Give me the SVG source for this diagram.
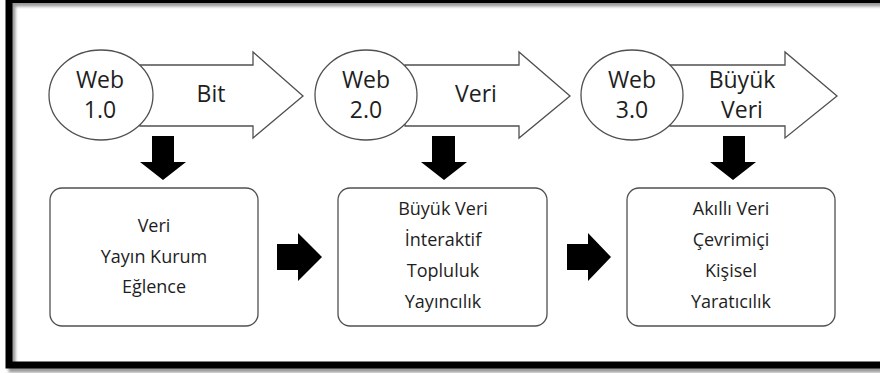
<svg xmlns="http://www.w3.org/2000/svg" width="880" height="373" viewBox="0 0 880 373">
<defs>
<style>
.t{font-family:"Open Sans","Liberation Sans",sans-serif;fill:#1e1e1e;text-anchor:middle}
.big{font-size:23px}
.sm{font-size:18px}
.sh{fill:#fff;stroke:#505050;stroke-width:1.3}
.blk{fill:#000}
</style>
<filter id="blur" x="-5%" y="-5%" width="110%" height="110%"><feGaussianBlur stdDeviation="1.5"/></filter>
</defs>
<rect x="0" y="0" width="880" height="373" fill="#fff"/>
<rect x="12" y="3" width="900" height="366" fill="none" stroke="#999" stroke-width="7" filter="url(#blur)"/>
<rect x="9" y="-0.5" width="900" height="365.5" fill="none" stroke="#000" stroke-width="7"/>

<g id="connectors">
<polygon class="blk" points="152,136 174,136 174,162 186,162 163,180 140,162 152,162"/>
<polygon class="blk" points="432,136 455,136 455,162 467,162 444,180 421,162 432,162"/>
<polygon class="blk" points="723,136 745,136 745,162 756,162 733,180 710,162 723,162"/>
<polygon class="blk" points="277,244 298,244 298,233 322,257 298,281 298,270 277,270"/>
<polygon class="blk" points="567,244 588,244 588,233 611,257 588,281 588,270 567,270"/>
</g>

<g id="web1">
<polygon class="sh" points="140,65 253,65 253,52 303,96 253,138 253,126 140,126"/>
<ellipse class="sh" cx="101" cy="95" rx="52" ry="45"/>
<text class="t big" x="100" y="88">Web</text>
<text class="t big" x="100" y="118">1.0</text>
<text class="t big" x="211" y="102">Bit</text>
</g>
<g id="web2">
<polygon class="sh" points="405,65 519,65 519,52 570,96 519,138 519,126 405,126"/>
<ellipse class="sh" cx="366" cy="95" rx="51" ry="45"/>
<text class="t big" x="366" y="88">Web</text>
<text class="t big" x="366" y="118">2.0</text>
<text class="t big" x="476" y="102">Veri</text>
</g>
<g id="web3">
<polygon class="sh" points="670,65 785,65 785,52 837,96 785,138 785,126 670,126"/>
<ellipse class="sh" cx="632" cy="95" rx="51" ry="45"/>
<text class="t big" x="632" y="88">Web</text>
<text class="t big" x="632" y="118">3.0</text>
<text class="t big" x="742" y="88">Büyük</text>
<text class="t big" x="742" y="118">Veri</text>
</g>

<g id="box1">
<rect class="sh" x="50" y="188" width="208" height="138" rx="12"/>
<text class="t sm" x="154" y="232">Veri</text>
<text class="t sm" x="154" y="263">Yayın Kurum</text>
<text class="t sm" x="154" y="293">Eğlence</text>
</g>
<g id="box2">
<rect class="sh" x="338" y="188" width="209" height="138" rx="12"/>
<text class="t sm" x="443" y="215">Büyük Veri</text>
<text class="t sm" x="443" y="246">İnteraktif</text>
<text class="t sm" x="443" y="277">Topluluk</text>
<text class="t sm" x="443" y="308">Yayıncılık</text>
</g>
<g id="box3">
<rect class="sh" x="627" y="188" width="208" height="138" rx="12"/>
<text class="t sm" x="731" y="215">Akıllı Veri</text>
<text class="t sm" x="731" y="246">Çevrimiçi</text>
<text class="t sm" x="731" y="277">Kişisel</text>
<text class="t sm" x="731" y="308">Yaratıcılık</text>
</g>
</svg>
